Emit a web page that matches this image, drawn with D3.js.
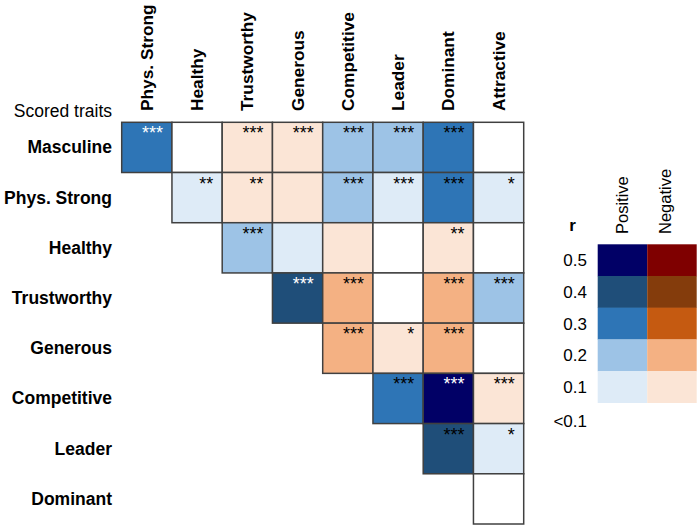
<!DOCTYPE html>
<html>
<head>
<meta charset="utf-8">
<script src="https://cdn.jsdelivr.net/npm/d3@7"></script>
<style>
  html, body { margin: 0; padding: 0; background: #fff; }
  svg { display: block; font-family: "Liberation Sans", Arial, sans-serif; }
</style>
</head>
<body>
<svg id="chart" width="700" height="528"></svg>
<script>
// ---- data ----
const columns = ["Phys. Strong", "Healthy", "Trustworthy", "Generous", "Competitive", "Leader", "Dominant", "Attractive"];
const rows = ["Masculine", "Phys. Strong", "Healthy", "Trustworthy", "Generous", "Competitive", "Leader", "Dominant"];

// estimated correlation r (sign = direction), null = no cell
const rValues = [
  [0.35, 0.05, -0.15, -0.15, 0.25, 0.25, 0.35, 0.05],
  [null, 0.15, -0.15, -0.12, 0.25, 0.15, 0.35, 0.12],
  [null, null, 0.25, 0.12, -0.12, 0.03, -0.15, 0.04],
  [null, null, null, 0.45, -0.25, -0.05, -0.25, 0.25],
  [null, null, null, null, -0.25, -0.15, -0.25, 0.04],
  [null, null, null, null, null, 0.35, 0.55, -0.15],
  [null, null, null, null, null, null, 0.45, 0.12],
  [null, null, null, null, null, null, null, 0.03]
];

const significance = [
  ["***", "", "***", "***", "***", "***", "***", ""],
  [null, "**", "**", "", "***", "***", "***", "*"],
  [null, null, "***", "", "", "", "**", ""],
  [null, null, null, "***", "***", "", "***", "***"],
  [null, null, null, null, "***", "*", "***", ""],
  [null, null, null, null, null, "***", "***", "***"],
  [null, null, null, null, null, null, "***", "*"],
  [null, null, null, null, null, null, null, ""]
];

// cells whose stars are drawn in white [row, column]
const whiteStars = [[0, 0], [3, 3], [5, 6]];

const legendLevels = [0.5, 0.4, 0.3, 0.2, 0.1];
const legendLabels = ["0.5", "0.4", "0.3", "0.2", "0.1", "<0.1"];
const legendSeries = ["Positive", "Negative"];

const positiveColors = ["#ffffff", "#deebf7", "#9dc3e6", "#2e75b6", "#1f4e79", "#010066"];
const negativeColors = ["#ffffff", "#fbe5d6", "#f4b183", "#c55a11", "#843c0c", "#7f0000"];

// ---- scales ----
const svg = d3.select("#chart");
const thresholds = [0.1, 0.2, 0.3, 0.4, 0.5];
const posScale = d3.scaleThreshold().domain(thresholds).range(positiveColors);
const negScale = d3.scaleThreshold().domain(thresholds).range(negativeColors);
const colorFor = r => (r >= 0 ? posScale(Math.abs(r)) : negScale(Math.abs(r)));

const x = d3.scaleBand().domain(columns).range([121.7, 523.7]).padding(0);
const y = d3.scaleBand().domain(rows).range([122.3, 524]).padding(0);

const cells = [];
rValues.forEach((row, i) => row.forEach((r, j) => {
  if (r !== null) {
    cells.push({
      row: rows[i], col: columns[j], r,
      stars: significance[i][j],
      white: whiteStars.some(w => w[0] === i && w[1] === j)
    });
  }
}));

const g = svg.append("g");
g.selectAll("rect.cell").data(cells).join("rect")
  .attr("class", "cell")
  .attr("x", d => x(d.col))
  .attr("y", d => y(d.row))
  .attr("width", x.bandwidth())
  .attr("height", y.bandwidth())
  .attr("fill", d => colorFor(d.r))
  .attr("stroke", "#404040")
  .attr("stroke-width", 1.5);

g.selectAll("text.star").data(cells.filter(d => d.stars)).join("text")
  .attr("class", "star")
  .attr("x", d => x(d.col) + x.bandwidth() - 9)
  .attr("y", d => y(d.row) + 17)
  .attr("text-anchor", "end")
  .attr("font-size", 18)
  .attr("fill", d => d.white ? "#ffffff" : "#000000")
  .text(d => d.stars);

// row labels
svg.append("g").selectAll("text").data(rows).join("text")
  .attr("x", 112)
  .attr("y", d => y(d) + y.bandwidth() / 2 + 6)
  .attr("text-anchor", "end")
  .attr("font-size", 17.5)
  .attr("font-weight", "bold")
  .attr("fill", "#000")
  .text(d => d);

// column labels
svg.append("g").selectAll("text").data(columns).join("text")
  .attr("transform", d => `translate(${x(d) + x.bandwidth() / 2 + 6},111) rotate(-90)`)
  .attr("text-anchor", "start")
  .attr("font-size", 17.3)
  .attr("font-weight", "bold")
  .attr("fill", "#000")
  .text(d => d);

svg.append("text")
  .attr("x", 112).attr("y", 117)
  .attr("text-anchor", "end")
  .attr("font-size", 17.5)
  .attr("fill", "#000")
  .text("Scored traits");

// ---- legend ----
const lx = d3.scaleBand().domain(legendSeries).range([597.7, 696.7]);
const ly = d3.scaleBand().domain(legendLevels).range([244.3, 402.7]);
const lyLabel = d3.scaleBand().domain(legendLabels).range([244.3, 244.3 + ly.bandwidth() * 6]);

const legend = svg.append("g");
legendSeries.forEach(s => {
  legend.selectAll(null).data(legendLevels).join("rect")
    .attr("x", lx(s))
    .attr("y", d => ly(d))
    .attr("width", lx.bandwidth())
    .attr("height", ly.bandwidth() + 0.3)
    .attr("fill", d => s === "Positive" ? posScale(d) : negScale(d));
});

legend.selectAll("text.lvl").data(legendLabels).join("text")
  .attr("class", "lvl")
  .attr("x", 587)
  .attr("y", (d, i) => lyLabel(d) + ly.bandwidth() / 2 + (i === 5 ? 8 : 6))
  .attr("text-anchor", "end")
  .attr("font-size", 17)
  .attr("fill", "#000")
  .text(d => d);

const seriesOffset = { Positive: 5.5, Negative: -1 };
legend.selectAll("text.ser").data(legendSeries).join("text")
  .attr("class", "ser")
  .attr("transform", d => `translate(${lx(d) + lx.bandwidth() / 2 + seriesOffset[d]},234) rotate(-90)`)
  .attr("text-anchor", "start")
  .attr("font-size", 16.5)
  .attr("fill", "#000")
  .text(d => d);

legend.append("text")
  .attr("x", 572.5).attr("y", 230.7)
  .attr("text-anchor", "middle")
  .attr("font-size", 17)
  .attr("font-weight", "bold")
  .attr("fill", "#000")
  .text("r");
</script>
</body>
</html>
